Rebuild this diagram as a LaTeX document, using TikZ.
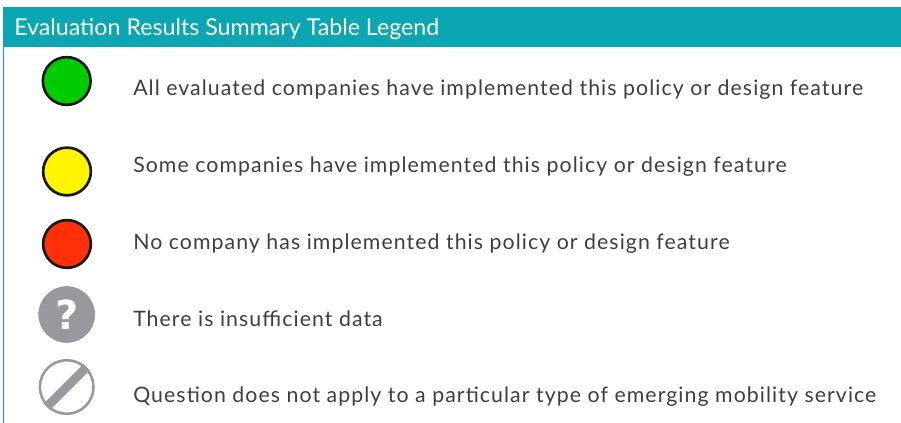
\documentclass[tikz,border=0pt]{standalone}
\usepackage{fontspec}
\setmainfont{Lato}[LetterSpace=5]
\newfontfamily\headfont{Lato}
\newfontfamily\markfont{DejaVu Sans}
\definecolor{barteal}{RGB}{10,167,178}
\definecolor{dotgreen}{RGB}{0,204,0}
\definecolor{dotyellow}{RGB}{255,245,0}
\definecolor{dotred}{RGB}{255,48,10}
\definecolor{markgray}{RGB}{153,153,157}
\definecolor{bodytext}{RGB}{62,62,64}
\tikzset{
    dot/.style={circle, draw=black!90, line width=2pt, minimum size=35.8pt, inner sep=0pt},
    legendtext/.style={anchor=base west, text=bodytext, font=\fontsize{15.97}{18}\selectfont, inner sep=0pt},
}
\begin{document}
\begin{tikzpicture}[x=0.75pt,y=-0.75pt]
        \useasboundingbox (0,0) rectangle (901,423);
        \fill[barteal] (3,7) rectangle (901,47);
        \draw[barteal, line width=0.8pt] (3.4,47) -- (3.4,423);

        \node[anchor=base west, text=white, inner sep=0pt, font=\headfont\fontsize{17.4}{20}\selectfont] (title) at (14,35.5) {Evaluation Results Summary Table Legend};

        \node[dot, fill=dotgreen] (green) at (66.7,81) {};
        \node[dot, fill=dotyellow] (yellow) at (67,171.5) {};
        \node[dot, fill=dotred] (red) at (67,244) {};
        \node[circle, fill=markgray, minimum size=42.5pt, inner sep=0pt, text=white, font=\markfont\bfseries\fontsize{30}{30}\selectfont] (unknown) at (66.7,314.5) {?};
        \node[circle, draw=markgray, line width=1.9pt, minimum size=40.2pt, inner sep=0pt] (na) at (66.7,387) {};
        \draw[markgray, line width=6.8pt] (na.225) -- (na.45);

        \node[legendtext] (greentext) at (133,96) {All evaluated companies have implemented this policy or design feature};
        \node[legendtext] (yellowtext) at (133,173) {Some companies have implemented this policy or design feature};
        \node[legendtext] (redtext) at (133,250) {No company has implemented this policy or design feature};
        \node[legendtext] (unknowntext) at (133,327) {There is insufficient data};
        \node[legendtext] (natext) at (133,403) {Question does not apply to a particular type of emerging mobility service};
    \end{tikzpicture}
\end{document}
